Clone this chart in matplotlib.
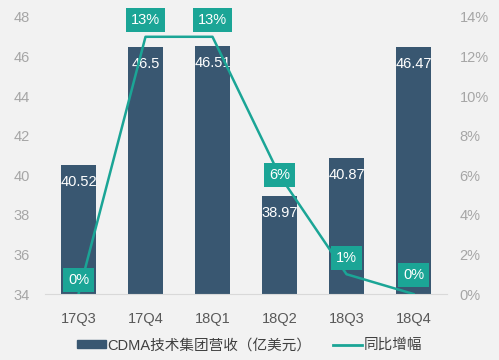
import matplotlib
matplotlib.use("Agg")
import matplotlib.pyplot as plt
from matplotlib.lines import Line2D
from matplotlib.patches import Patch

plt.rcParams['font.family'] = ['Liberation Sans', 'Noto Sans CJK SC', 'DejaVu Sans']

quarters = ["17Q3", "17Q4", "18Q1", "18Q2", "18Q3", "18Q4"]
revenue = [40.52, 46.5, 46.51, 38.97, 40.87, 46.47]   # 亿美元
growth = [0, 13, 13, 6, 1, 0]                          # %
revenue_labels = ["40.52", "46.5", "46.51", "38.97", "40.87", "46.47"]

BAR = "#395771"
TEAL = "#1ba596"
BG = "#f2f2f2"
TICK = "#a6a6a6"

fig = plt.figure(figsize=(4.99, 3.6), dpi=100, facecolor=BG)
ax = fig.add_axes([45 / 499, 66 / 360, 402 / 499, 277 / 360], facecolor=BG)
x = range(len(quarters))

ax.bar(x, revenue, width=0.51, color=BAR, zorder=2)
ax.set_ylim(34, 48)
ax.set_xlim(-0.5, 5.5)
ax.set_yticks(range(34, 49, 2))
for xi, v, s in zip(x, revenue, revenue_labels):
    ax.annotate(s, (xi, v), xytext=(0, -17), textcoords="offset pixels",
                ha="center", va="center", color="white", fontsize=10.5, zorder=5)

ax2 = ax.twinx()
ax2.set_ylim(0, 14)
ax2.set_yticks(range(0, 15, 2))
ax2.set_yticklabels([f"{t}%" for t in range(0, 15, 2)])
ax2.plot(x, growth, color=TEAL, lw=1.8, zorder=3)
label_dy = [14, 17, 17, 0, 16, 19]
for xi, g, dy in zip(x, growth, label_dy):
    ax2.annotate(f"{g}%", (xi, g), xytext=(0, dy), textcoords="offset pixels",
                 ha="center", va="center", color="white", fontsize=10.5, zorder=6,
                 bbox=dict(boxstyle="square,pad=0.35", fc=TEAL, ec="none"))

for a in (ax, ax2):
    for side in ("top", "left", "right"):
        a.spines[side].set_visible(False)
    a.spines["bottom"].set_color("#d9d9d9")
    a.tick_params(length=0, colors=TICK, labelsize=10.5)
ax2.spines["bottom"].set_visible(False)
ax.set_xticks(list(x))
ax.set_xticklabels(quarters, color="#595959", fontsize=10.5)
ax.tick_params(axis="x", pad=13)
ax.tick_params(axis="y", pad=11)
ax2.tick_params(axis="y", pad=9)

handles = [Patch(color=BAR, label="CDMA技术集团营收（亿美元）"),
           Line2D([], [], color=TEAL, lw=2, label="同比增幅")]
fig.legend(handles=handles, loc="center", bbox_to_anchor=(0.5, 13 / 360 + 0.005),
           ncol=2, frameon=False, fontsize=10.5, handlelength=2.0, handleheight=0.4,
           handletextpad=0.1, columnspacing=1.5, labelcolor="#404040")

fig.savefig("out.png", dpi=100, facecolor=BG)
